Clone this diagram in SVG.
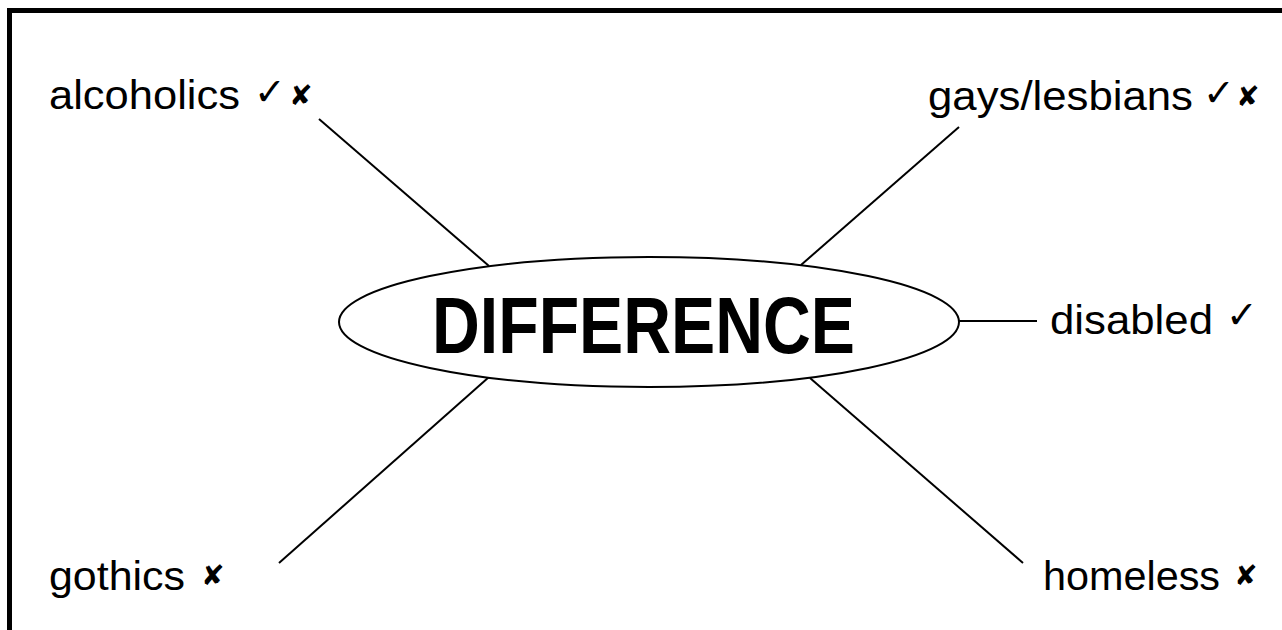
<svg xmlns="http://www.w3.org/2000/svg" width="1282" height="630" viewBox="0 0 1282 630">
<style>
.lbl{font-family:"Liberation Sans",Arial,sans-serif;font-size:40px;fill:#000}
.mk{font-family:"DejaVu Sans",sans-serif;font-size:28px;fill:#000}
.ck{font-family:"DejaVu Sans",sans-serif;font-size:38px;fill:#000}
.ckb{font-family:"DejaVu Sans",sans-serif;font-size:38px;font-weight:bold;fill:#000}
.ln{stroke:#000;stroke-width:2;fill:none}
</style>
<rect width="1282" height="630" fill="#fff"/>
<path d="M9.5 630 V10.5 H1282" fill="none" stroke="#000" stroke-width="5"/>
<g id="connectors">
<line class="ln" x1="319" y1="119" x2="489" y2="266"/>
<line class="ln" x1="959" y1="127" x2="801" y2="265"/>
<line class="ln" x1="959" y1="321" x2="1037" y2="321"/>
<line class="ln" x1="489" y1="377" x2="279" y2="563"/>
<line class="ln" x1="810" y1="378" x2="1023" y2="563"/>
</g>
<g id="center">
<ellipse cx="649" cy="322" rx="310" ry="65" fill="#fff" stroke="#000" stroke-width="2"/>
<text x="432" y="353" font-family="Liberation Sans,Arial,sans-serif" font-weight="bold" font-size="80" textLength="423" lengthAdjust="spacingAndGlyphs">DIFFERENCE</text>
</g>
<g id="alcoholics">
<text class="lbl" x="49" y="109" textLength="191" lengthAdjust="spacingAndGlyphs">alcoholics</text>
<text class="ckb" x="254" y="105">✓</text><text class="mk" x="289" y="105">✘</text>
</g>
<g id="gays">
<text class="lbl" x="928" y="110" textLength="265" lengthAdjust="spacingAndGlyphs">gays/lesbians</text>
<text class="ckb" x="1203" y="106">✓</text><text class="mk" x="1236" y="106">✘</text>
</g>
<g id="disabled">
<text class="lbl" x="1050" y="334" textLength="163" lengthAdjust="spacingAndGlyphs">disabled</text>
<text class="ck" x="1226" y="328">✓</text>
</g>
<g id="gothics">
<text class="lbl" x="49" y="590" textLength="136" lengthAdjust="spacingAndGlyphs">gothics</text>
<text class="mk" x="201" y="585">✘</text>
</g>
<g id="homeless">
<text class="lbl" x="1043" y="590" textLength="177" lengthAdjust="spacingAndGlyphs">homeless</text>
<text class="mk" x="1234" y="585">✘</text>
</g>
</svg>
